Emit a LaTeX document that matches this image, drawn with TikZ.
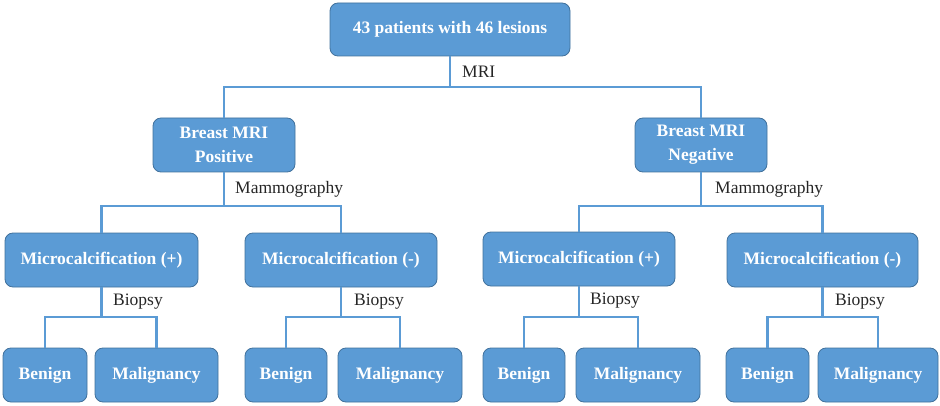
\documentclass[tikz,border=0pt]{standalone}
\usepackage{fontspec}
\setmainfont{Liberation Serif}
\usepackage{xcolor}
\definecolor{boxfill}{HTML}{5B9BD5}
\definecolor{boxedge}{HTML}{41719C}
\definecolor{linkline}{HTML}{5B9BD5}
\usetikzlibrary{positioning, calc}

\begin{document}
\begin{tikzpicture}[
  x=1pt, y=1pt,
  font=\fontsize{17.5}{21}\selectfont,
  box/.style={
    draw=boxedge, thick, rounded corners=8pt, fill=boxfill,
    text=white, font=\fontsize{17.5}{21}\selectfont\bfseries,
    inner sep=0pt, align=center, minimum height=54pt
  },
  link/.style={draw=linkline, line width=2.8pt},
  method/.style={anchor=west, inner sep=0pt, text=black!85}
]
  \useasboundingbox (0,0) rectangle (940,405);

  % top of the tree
  \node[box, minimum width=240pt, minimum height=53pt] (root) at (450,375.5)
    {43 patients with 46 lesions};
  \node[box, minimum width=142pt] (pos) at (224,260)
    {Breast MRI\\[3pt]Positive};
  \node[box, minimum width=132pt] (neg) at (701,260)
    {Breast MRI\\[3pt]Negative};

  % mammography level
  \node[box, minimum width=193pt] (pmcp) at (101.5,145) {Microcalcification (+)};
  \node[box, minimum width=192pt] (pmcn) at (341,145) {Microcalcification (-)};
  \node[box, minimum width=192pt] (nmcp) at (579,146) {Microcalcification (+)};
  \node[box, minimum width=191pt] (nmcn) at (822.5,145) {Microcalcification (-)};

  % biopsy results
  \node[box, minimum width=84pt]  (pben1) at (45,30)    {Benign};
  \node[box, minimum width=123pt] (pmal1) at (156.5,30) {Malignancy};
  \node[box, minimum width=82pt]  (pben2) at (286,30)   {Benign};
  \node[box, minimum width=124pt] (pmal2) at (400,30)   {Malignancy};
  \node[box, minimum width=82pt]  (nben1) at (524,30)   {Benign};
  \node[box, minimum width=124pt] (nmal1) at (638,30)   {Malignancy};
  \node[box, minimum width=83pt]  (nben2) at (767.5,30) {Benign};
  \node[box, minimum width=120pt] (nmal2) at (878,30)   {Malignancy};

  % junctions of the branches
  \coordinate (jroot) at (450,318);
  \coordinate (jpos)  at (224,199);
  \coordinate (jneg)  at (701,199);
  \coordinate (jpmcp) at (101.5,88);
  \coordinate (jpmcn) at (341,88);
  \coordinate (jnmcp) at (579,88);
  \coordinate (jnmcn) at (822.5,88);

  \draw[link] (root.south) -- (jroot) -| (pos.north);
  \draw[link] (jroot) -| (neg.north);
  \draw[link] (pos.south) -- (jpos) -| (pmcp.north);
  \draw[link] (jpos) -| (pmcn.north);
  \draw[link] (neg.south) -- (jneg) -| (nmcp.north);
  \draw[link] (jneg) -| (nmcn.north);
  \draw[link] (pmcp.south) -- (jpmcp) -| (pben1.north);
  \draw[link] (jpmcp) -| (pmal1.north);
  \draw[link] (pmcn.south) -- (jpmcn) -| (pben2.north);
  \draw[link] (jpmcn) -| (pmal2.north);
  \draw[link] (nmcp.south) -- (jnmcp) -| (nben1.north);
  \draw[link] (jnmcp) -| (nmal1.north);
  \draw[link] (nmcn.south) -- (jnmcn) -| (nben2.north);
  \draw[link] (jnmcn) -| (nmal2.north);

  % examination labels
  \node[method] (lmri)  at (462,333) {MRI};
  \node[method] (lmamp) at (235,216) {Mammography};
  \node[method] (lmamn) at (715,216) {Mammography};
  \node[method] (lbio1) at (113,103) {Biopsy};
  \node[method] (lbio2) at (354,103) {Biopsy};
  \node[method] (lbio3) at (590,104) {Biopsy};
  \node[method] (lbio4) at (835,103) {Biopsy};
\end{tikzpicture}
\end{document}
